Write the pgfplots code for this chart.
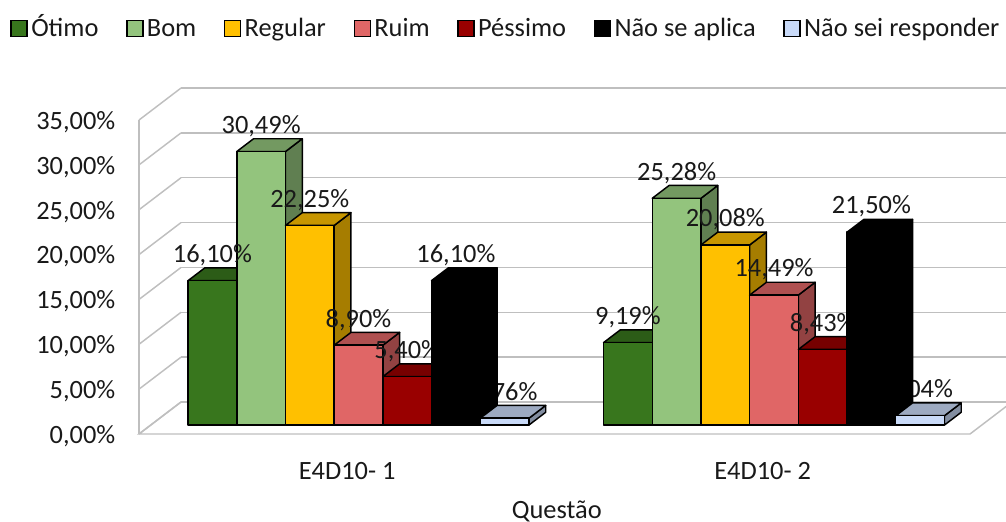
\documentclass[border=0pt]{standalone}
\usepackage{fontspec}
\setmainfont{Carlito}
\usepackage{pgfplots}
\pgfplotsset{compat=1.18}
\newlength{\U}\setlength{\U}{0.75pt}
\definecolor{cA}{HTML}{38761D}
\definecolor{cB}{HTML}{93C47D}
\definecolor{cC}{HTML}{FFC000}
\definecolor{cD}{HTML}{E06666}
\definecolor{cE}{HTML}{990000}
\definecolor{cF}{HTML}{000000}
\definecolor{cG}{HTML}{C9DAF8}
\definecolor{wall}{HTML}{BFBFBF}
\newcommand{\fs}{\fontsize{19.8}{23}\selectfont}
% x0, x1, value, colour
\newcommand{\Bar}[4]{%
 \addplot3[draw=black,line width=1.1pt,line join=round,fill=#4!65!black,forget plot] coordinates {(#2,0.28,0) (#2,0.68,0) (#2,0.68,#3) (#2,0.28,#3)} -- cycle;
 \addplot3[draw=black,line width=1.1pt,line join=round,fill=#4!78!black,forget plot] coordinates {(#1,0.28,#3) (#2,0.28,#3) (#2,0.68,#3) (#1,0.68,#3)} -- cycle;
 \addplot3[draw=black,line width=1.1pt,line join=round,fill=#4,forget plot] coordinates {(#1,0.28,0) (#2,0.28,0) (#2,0.28,#3) (#1,0.28,#3)} -- cycle;
}
\newcommand{\Lab}[3]{\node[font=\fs,text=black!90,inner sep=0pt,anchor=center,yshift=25.5\U] at (axis cs:#1,0.28,#2) {#3};}
\begin{document}
\begin{tikzpicture}
\clip (0,0) rectangle (1006\U,521\U);
\begin{axis}[
 at={(139\U,87\U)},anchor=origin,
 x={(415.5\U,0)},y={(42\U,32\U)},z={(0,8.97\U)},
 xmin=0,xmax=2,ymin=0,ymax=1,zmin=0,zmax=35,
 clip=false,
 axis line style={draw=none},
 major tick length=0pt,
 xtick={0.5,1.5},xticklabels={E4D10- 1,E4D10- 2},
 ytick=\empty,
 ztick={0,5,10,15,20,25,30,35},
 zticklabels={{0,00\%},{5,00\%},{10,00\%},{15,00\%},{20,00\%},{25,00\%},{30,00\%},{35,00\%}},
 zmajorgrids=true,
 major grid style={wall,line width=1.1pt},
 tick label style={font=\fs,text=black!90},
 every z tick label/.append style={anchor=east,xshift=-19\U,yshift=-2\U},
 every x tick label/.append style={xshift=7\U,yshift=-24\U},
 xlabel={Questão},
 xlabel style={font=\fs,text=black!90,inner sep=0pt,xshift=38\U,yshift=-5.4\U},
 legend columns=7,
 legend cell align=left,
 legend style={draw=none,fill=none,at={(axis cs:-0.31,0,44.8)},anchor=west,font=\fs,text=black!90,
   inner sep=0pt,nodes={text height=14\U,text depth=5\U,inner sep=2.5pt,anchor=base west},
   /tikz/every even column/.append style={column sep=24.3\U}},
 legend image code/.code={\draw[#1,line width=1.1pt] (0,0\U) rectangle (16\U,16\U);},
]
\addlegendimage{fill=cA,draw=black}\addlegendentry{Ótimo}
\addlegendimage{fill=cB,draw=black}\addlegendentry{Bom}
\addlegendimage{fill=cC,draw=black}\addlegendentry{Regular}
\addlegendimage{fill=cD,draw=black}\addlegendentry{Ruim}
\addlegendimage{fill=cE,draw=black}\addlegendentry{Péssimo}
\addlegendimage{fill=cF,draw=black}\addlegendentry{Não se aplica}
\addlegendimage{fill=cG,draw=black}\addlegendentry{Não sei responder}
% floor outline
\addplot3[draw=wall,line width=1.1pt,forget plot] coordinates {(0,1,0) (0,0,0) (2,0,0) (2,1,0)};
\addplot3[draw=wall,line width=1.1pt,forget plot] coordinates {(0,0,0) (0,0,35)};
% group 1
\Bar{0.0898}{0.2070}{16.10}{cA}
\Bar{0.2070}{0.3242}{30.49}{cB}
\Bar{0.3242}{0.4414}{22.25}{cC}
\Bar{0.4414}{0.5586}{8.90}{cD}
\Bar{0.5586}{0.6758}{5.40}{cE}
% group 2
\Bar{1.0898}{1.2070}{9.19}{cA}
\Bar{1.2070}{1.3242}{25.28}{cB}
\Bar{1.3242}{1.4414}{20.08}{cC}
\Bar{1.4414}{1.5586}{14.49}{cD}
\Bar{1.5586}{1.6758}{8.43}{cE}
\Lab{0.1484}{16.10}{16,10\%}
\Lab{0.2656}{30.49}{30,49\%}
\Lab{0.3828}{22.25}{22,25\%}
\Lab{0.5000}{8.90}{8,90\%}
\Lab{0.6172}{5.40}{5,40\%}
\Lab{0.8516}{0.76}{0,76\%}
\Lab{1.1484}{9.19}{9,19\%}
\Lab{1.2656}{25.28}{25,28\%}
\Lab{1.3828}{20.08}{20,08\%}
\Lab{1.5000}{14.49}{14,49\%}
\Lab{1.6172}{8.43}{8,43\%}
\Lab{1.8516}{1.04}{1,04\%}
\Bar{0.6758}{0.7930}{16.10}{cF}
\Bar{1.6758}{1.7930}{21.50}{cF}
\Bar{0.7930}{0.9102}{0.76}{cG}
\Bar{1.7930}{1.9102}{1.04}{cG}
\Lab{0.7344}{16.10}{16,10\%}
\Lab{1.7344}{21.50}{21,50\%}
\end{axis}
\end{tikzpicture}
\end{document}
